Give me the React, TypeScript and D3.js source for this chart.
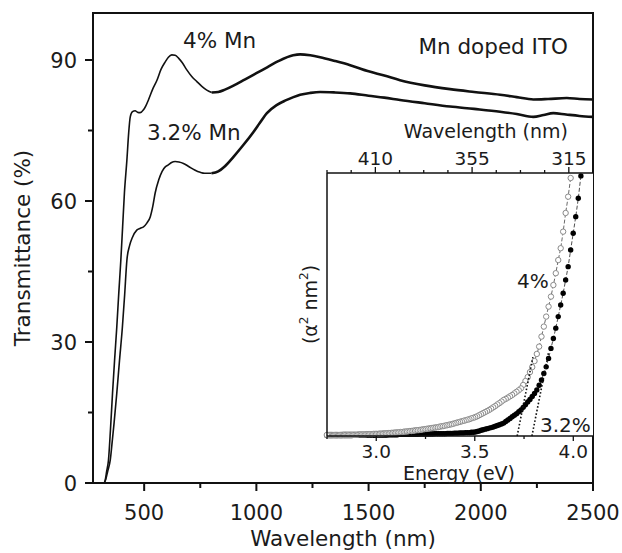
import React from 'react';
import * as d3 from 'd3';

const W = 622, H = 553;

// main axis ticks
const waveTicks = [500, 1000, 1500, 2000, 2500];
const waveMinor = [750, 1250, 1750, 2250];
const transTicks = [0, 30, 60, 90];
const transMinor = [15, 45, 75];

// main transmittance curves [wavelength nm, T %]
const uv4: [number, number][] = [[322,0],[326,0.5],[333,2.5],[341,4.9],[350,11.5],[359,19.1],[368,26],[378,33.2],[387,40.5],[396,47.4],[404,54.5],[412,61.7],[423,68.7],[431,74.5],[438,77.9],[448,79],[460,79.2],[470,78.9],[482,78.8],[497,79.4],[508,80.3],[519,81.5],[538,83.8],[557,85.7],[575,88],[594,89.6],[608,90.6],[623,91.1],[638,91],[653,90.4],[670,89.4],[690,87.9],[712,86.5],[735,85.4],[757,84.4],[779,83.6],[801,83.1]];
const nir4: [number, number][] = [[801,83.1],[830,83.2],[860,83.7],[900,84.6],[950,85.9],[1000,87.2],[1050,88.5],[1100,89.8],[1164,91.0],[1195,91.2],[1240,91],[1284,90.6],[1350,89.8],[1418,88.9],[1500,87.6],[1570,86.7],[1640,85.7],[1750,84.6],[1863,83.8],[1970,83.2],[2086,82.6],[2160,82.1],[2234,81.6],[2300,81.7],[2383,81.9],[2440,81.7],[2500,81.6]];
const uv32: [number, number][] = [[322,0],[329,0.8],[337,2.4],[349,4.9],[358,9],[366,12.8],[378,19.1],[390,26],[403,33.2],[413,40],[423,47.4],[435,50.5],[448,52.3],[467,53.8],[483,54.2],[497,54.5],[512,55.3],[527,56.6],[539,59],[549,61.7],[565,64.5],[580,66.3],[595,67.3],[608,67.7],[622,68.2],[638,68.4],[655,68.3],[675,68],[700,67.3],[725,66.6],[750,66.1],[770,65.9],[786,65.9],[800,65.9]];
const nir32: [number, number][] = [[800,65.9],[830,66.3],[860,67.4],[898,69.4],[940,71.8],[987,74.7],[1015,76.6],[1047,78.7],[1090,80.4],[1130,81.4],[1165,82.1],[1195,82.6],[1240,83],[1284,83.2],[1350,83.1],[1418,82.9],[1500,82.4],[1570,82],[1640,81.5],[1750,80.8],[1863,80.1],[1970,79.6],[2086,79],[2160,78.5],[2234,77.9],[2280,78.3],[2323,78.7],[2380,78.4],[2440,78.1],[2500,77.9]];

// inset: (alpha^2) values, one per nm, in relative units (0-100 of the inset height)
const inset4StartNm = 311;
const inset4 = [98.1,91.0,84.8,77.7,71.4,66.9,61.9,57.4,53.0,49.2,45.4,41.6,37.8,34.0,31.2,28.5,26.2,24.3,22.4,20.9,19.4,18.1,17.4,16.8,16.2,15.6,15.1,14.6,14.1,13.7,13.1,12.5,12.0,11.4,10.9,10.4,9.9,9.5,9.1,8.7,8.3,7.9,7.5,7.2,
6.9,6.7,6.4,6.2,6.0,5.8,5.6,5.4,5.2,5.0,4.8,4.6,4.4,4.3,4.1,4.0,3.8,3.7,3.6,3.4,3.3,3.2,3.1,3.0,2.9,2.8,2.7,2.6,2.5,2.4,2.3,
2.2,2.2,2.1,2.0,1.9,1.9,1.8,1.7,1.7,1.6,1.5,1.5,1.4,1.4,1.3,1.3,1.2,1.2,1.1,1.1,1.0,1.0,1.0,0.9,0.9,0.9,0.8,0.8,
0.8,0.8,0.7,0.7,0.7,0.7,0.7,0.6,0.6,0.6,0.6,0.6,0.6,0.5,0.5,0.5,0.5,0.5,0.5,0.5,0.5,0.5,0.5,0.5,0.5,0.4,0.4,0.4,0.4,0.4,0.4,0.4,0.4,0.4,0.4,0.4,0.4,0.4];
const inset32StartNm = 307;
const inset32 = [98.9,90.4,83.4,77.1,70.7,64.4,59.3,54.3,49.8,45.4,41.0,37.1,33.3,29.5,26.3,23.8,21.3,19.3,17.5,16.2,15.0,13.9,12.9,11.9,10.9,9.9,9.2,8.5,7.9,7.3,6.7,6.1,5.5,4.9,4.6,4.3,4.0,3.7,3.4,3.2,3.0,2.8,2.6,2.4,2.2,1.9,1.7,1.5,
1.4,1.4,1.3,1.3,1.3,1.2,1.2,1.2,1.1,1.1,1.1,1.0,1.0,1.0,1.0,0.9,0.9,0.9,0.9,0.9,0.9,0.9,0.8,0.8,0.8,0.8,0.8,0.8,0.8,0.8,0.8,
0.7,0.7,0.7,0.7,0.7,0.7,0.6,0.6,0.6,0.6,0.6,0.6,0.6,0.5,0.5,
0.5,0.5,0.5,0.5,0.5,0.4,0.4,0.4,0.4,0.4,0.4,0.4,0.4,0.4,0.3,0.3,0.3,0.3,0.3,0.3,
0.3,0.3,0.3,0.3,0.3,0.3,0.3,0.3,0.3,0.3,0.2,0.2,0.2,0.2,0.2,0.2,0.2,0.2,0.2,0.2,0.2,0.2,0.2,0.2,0.2,0.2,0.2,0.2,0.2,0.2,0.2];
const tangent4: [number, number][] = [[3.715, 0], [3.795, 30]];
const tangent32: [number, number][] = [[3.79, 0], [3.875, 32]];
const energyTicks = [3.0, 3.5, 4.0];
const energyMinor = [2.75, 3.25, 3.75];
const topTickLabels = ['410', '355', '315'];
const topMajorIdx = [0, 4, 8];

const FONT = 'DejaVu Sans';
const INK = '#1b1b1b';

export default function App() {
  const mL = 93, mR = 593, mT = 13, mB = 483;
  const x = d3.scaleLinear().domain([272, 2500]).range([mL, mR]);
  const y = d3.scaleLinear().domain([0, 100]).range([mB, mT]);
  const iL = 327, iR = 593, iT = 173, iB = 436;
  const ex = d3.scaleLinear().domain([2.75, 4.1]).range([iL, iR]);
  const ey = d3.scaleLinear().domain([0, 100]).range([iB, iT]);
  const topIdx = d3.scaleLinear().domain([-2, 9]).range([iL, iR]);

  const mainLine = d3.line<[number, number]>().x(d => x(d[0])).y(d => y(d[1])).curve(d3.curveMonotoneX);
  const toE = (nm: number) => 1239.84 / nm;
  const pts4 = inset4.map((v, i) => [toE(inset4StartNm + i), v] as [number, number]);
  const pts32 = inset32.map((v, i) => [toE(inset32StartNm + i), v] as [number, number]);
  const insetLine = d3.line<[number, number]>().x(d => ex(d[0])).y(d => ey(d[1]));

  return (
    <svg width={W} height={H} style={{ position: 'absolute', left: 0, top: 0, background: '#fff' }} fontFamily={FONT}>
      <rect x={0} y={0} width={W} height={H} fill="#fff" />
      {/* main curves */}
      <path d={mainLine(uv4) || ''} fill="none" stroke="#111" strokeWidth={1.6} />
      <path d={mainLine(nir4) || ''} fill="none" stroke="#111" strokeWidth={2.6} />
      <path d={mainLine(uv32) || ''} fill="none" stroke="#111" strokeWidth={1.6} />
      <path d={mainLine(nir32) || ''} fill="none" stroke="#111" strokeWidth={2.6} />

      {/* main frame */}
      <rect x={mL} y={mT} width={mR - mL} height={mB - mT} fill="none" stroke="#111" strokeWidth={2} />
      {waveTicks.map(t => (
        <g key={'xt' + t}>
          <line x1={x(t)} x2={x(t)} y1={mB} y2={mB + 8} stroke="#111" strokeWidth={2} />
          <text x={x(t)} y={520} textAnchor="middle" fontSize={21} fill={INK}>{t}</text>
        </g>
      ))}
      {waveMinor.map(t => <line key={'xm' + t} x1={x(t)} x2={x(t)} y1={mB} y2={mB + 5} stroke="#111" strokeWidth={2} />)}
      {transTicks.map(t => (
        <g key={'yt' + t}>
          <line x1={mL - 8} x2={mL} y1={y(t)} y2={y(t)} stroke="#111" strokeWidth={2} />
          <text x={77} y={y(t)} dy="0.36em" textAnchor="end" fontSize={21} fill={INK}>{t}</text>
        </g>
      ))}
      {transMinor.map(t => <line key={'ym' + t} x1={mL - 5} x2={mL} y1={y(t)} y2={y(t)} stroke="#111" strokeWidth={2} />)}
      <text x={(mL + mR) / 2} y={546} textAnchor="middle" fontSize={21.5} fill={INK}>Wavelength (nm)</text>
      <text transform={`translate(30,${(mT + mB) / 2}) rotate(-90)`} textAnchor="middle" fontSize={21.5} fill={INK}>Transmittance (%)</text>
      <text x={183} y={48} fontSize={21.5} fill={INK}>4% Mn</text>
      <text x={147} y={140} fontSize={21.5} fill={INK}>3.2% Mn</text>
      <text x={568} y={54} textAnchor="end" fontSize={21.5} fill={INK}>Mn doped ITO</text>

      {/* inset */}
      <rect x={iL} y={iT} width={iR - iL} height={iB - iT} fill="#fff" stroke="none" />
      <path d={insetLine(pts32) || ''} fill="none" stroke="#222" strokeWidth={0.8} strokeDasharray="4 2" />
      <path d={insetLine(pts4) || ''} fill="none" stroke="#444" strokeWidth={0.8} strokeDasharray="4 2" />
      {pts32.map((d, i) => <circle key={'f' + i} cx={ex(d[0])} cy={ey(d[1])} r={2.7} fill="#000" />)}
      {pts4.map((d, i) => <circle key={'o' + i} cx={ex(d[0])} cy={ey(d[1])} r={2.7} fill="#fff" stroke="#8a8a8a" strokeWidth={1} />)}
      <path d={insetLine(tangent4) || ''} fill="none" stroke="#111" strokeWidth={1.6} strokeDasharray="1.6 2" />
      <path d={insetLine(tangent32) || ''} fill="none" stroke="#111" strokeWidth={1.6} strokeDasharray="1.6 2" />
      <line x1={iL} x2={iL} y1={iT} y2={iB} stroke="#111" strokeWidth={1.5} />
      <line x1={iL} x2={iR} y1={iT} y2={iT} stroke="#111" strokeWidth={1.5} />
      <line x1={iL} x2={iR} y1={iB} y2={iB} stroke="#111" strokeWidth={1.5} />
      {d3.range(-2, 10).map(i => (
        <line key={'tt' + i} x1={topIdx(i)} x2={topIdx(i)} y1={iT} y2={iT - (topMajorIdx.includes(i) ? 6 : 3)} stroke="#111" strokeWidth={1.3} />
      ))}
      {topTickLabels.map((l, k) => (
        <text key={'tl' + l} x={topIdx(topMajorIdx[k])} y={165} textAnchor="middle" fontSize={18.5} fill={INK}>{l}</text>
      ))}
      <text x={568} y={138} textAnchor="end" fontSize={19} fill={INK}>Wavelength (nm)</text>
      {energyTicks.map(t => (
        <g key={'et' + t}>
          <line x1={ex(t)} x2={ex(t)} y1={iB} y2={iB + 5} stroke="#111" strokeWidth={1.3} />
          <text x={ex(t)} y={458} textAnchor="middle" fontSize={18.5} fill={INK}>{t.toFixed(1)}</text>
        </g>
      ))}
      {energyMinor.map(t => <line key={'em' + t} x1={ex(t)} x2={ex(t)} y1={iB} y2={iB + 3} stroke="#111" strokeWidth={1.3} />)}
      <text x={459} y={480} textAnchor="middle" fontSize={19} fill={INK}>Energy (eV)</text>
      <text transform={`translate(317,${(iT + iB) / 2}) rotate(-90)`} textAnchor="middle" fontSize={19} fill={INK}>
        (α<tspan dy={-9} fontSize={12}>2</tspan><tspan dy={9}> nm</tspan><tspan dy={-9} fontSize={12}>2</tspan><tspan dy={9}>)</tspan>
      </text>
      <text x={517} y={288} fontSize={20} fill={INK}>4%</text>
      <text x={540} y={432} fontSize={20} fill={INK}>3.2%</text>
    </svg>
  );
}
